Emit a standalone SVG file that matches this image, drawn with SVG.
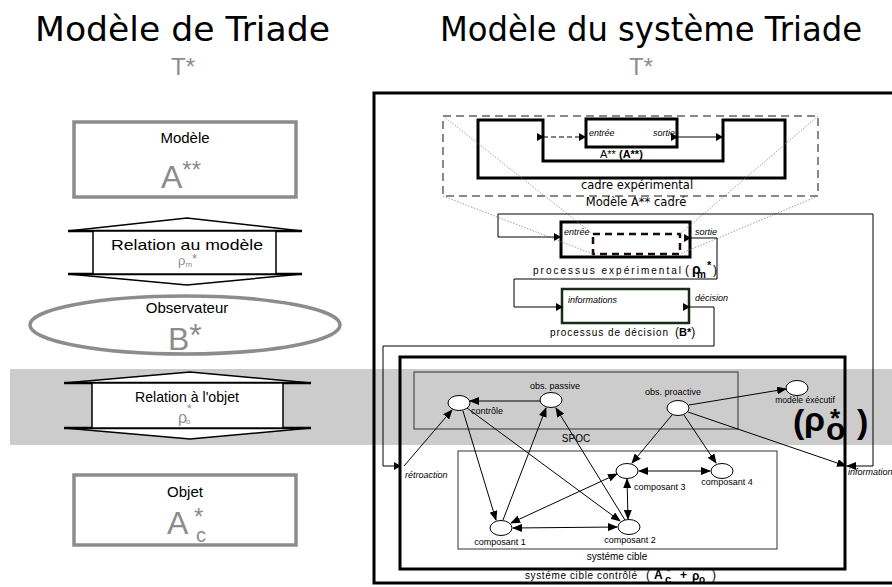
<svg xmlns="http://www.w3.org/2000/svg" width="892" height="587" viewBox="0 0 892 587">
<style>
text{font-family:"Liberation Sans",Arial,sans-serif;fill:#000}
.title{font-family:"DejaVu Sans",sans-serif;font-size:33px}
.tstar{font-size:24px;text-anchor:middle;fill:#8c8c8c}
.lbl{font-size:15px;text-anchor:middle}
.big{font-size:32px;fill:#8c8c8c}
.g{fill:#8c8c8c}
.graybox{fill:#fff;stroke:#8c8c8c;stroke-width:3.5}
.s{font-size:9px}
.m{font-size:10px}
.si{font-size:9px;font-style:italic}
.pl{font-size:10px}
.dv{font-family:"DejaVu Sans",sans-serif;font-size:11.5px;text-anchor:middle}
.thick{fill:none;stroke:#000;stroke-width:3}
.edge{fill:none;stroke:#000;stroke-width:1;marker-end:url(#ah)}
.bi{fill:none;stroke:#000;stroke-width:1;marker-end:url(#ah);marker-start:url(#ahs)}
.node{fill:#fff;stroke:#000;stroke-width:1}
.dotted{fill:none;stroke:#888;stroke-width:0.8;stroke-dasharray:1.5 1.5}
.b{font-weight:bold}
</style>
<defs>
<marker id="ah" markerUnits="userSpaceOnUse" markerWidth="10" markerHeight="8" refX="9" refY="4" orient="auto"><path d="M0,0 L10,4 L0,8 Z" fill="#000"/></marker>
<marker id="ahs" markerUnits="userSpaceOnUse" markerWidth="10" markerHeight="8" refX="1" refY="4" orient="auto"><path d="M10,0 L0,4 L10,8 Z" fill="#000"/></marker>
<marker id="port" markerUnits="userSpaceOnUse" markerWidth="7" markerHeight="8" refX="6" refY="4" orient="auto"><path d="M0,0 L7,4 L0,8 Z" fill="#000"/></marker>
</defs>
<rect width="892" height="587" fill="#fff"/>
<rect x="10" y="369" width="882" height="76" fill="#cccccc"/>

<g id="titles">
<text class="title" x="35" y="41" textLength="295" lengthAdjust="spacingAndGlyphs">Modèle de Triade</text>
<text class="tstar" x="183" y="75">T*</text>
<text class="title" x="440" y="41" textLength="422" lengthAdjust="spacingAndGlyphs">Modèle du système Triade</text>
<text class="tstar" x="641" y="75">T*</text>
</g>

<g id="modele">
<rect class="graybox" x="74" y="122" width="222" height="75"/>
<text class="lbl" x="185" y="143">Modèle</text>
<text class="big" x="161" y="188">A<tspan font-size="24" dy="-10">**</tspan></text>
</g>

<g id="relation-modele">
<path d="M68,231 L187,218 L302,231 Z M68,274 L187,285 L302,274 Z" fill="#fff" stroke="#000" stroke-width="1.5"/>
<line x1="68" y1="231" x2="302" y2="231" stroke="#000" stroke-width="2.5"/>
<line x1="68" y1="274" x2="302" y2="274" stroke="#000" stroke-width="2.5"/>
<rect x="93" y="231" width="183" height="43" fill="#fff" stroke="#000" stroke-width="1.5"/>
<text class="lbl" x="187" y="250" font-size="16" textLength="152" lengthAdjust="spacingAndGlyphs">Relation au modèle</text>
<text class="g" x="178" y="265" font-size="13">ρ<tspan font-size="8" dy="2">m</tspan><tspan dy="-4">*</tspan></text>
</g>

<g id="observateur">
<ellipse cx="185" cy="325" rx="155" ry="29" fill="#fff" stroke="#8c8c8c" stroke-width="3.5"/>
<text class="lbl" x="187" y="313">Observateur</text>
<text class="big" x="168" y="350" font-size="30">B<tspan dy="-4">*</tspan></text>
</g>

<g id="relation-objet">
<path d="M64,383 L190,372 L311,383 Z M64,428 L190,439 L311,428 Z" fill="#fff" stroke="#000" stroke-width="1.5"/>
<line x1="64" y1="383" x2="311" y2="383" stroke="#000" stroke-width="2.5"/>
<line x1="64" y1="428" x2="311" y2="428" stroke="#000" stroke-width="2.5"/>
<rect x="92" y="383" width="191" height="45" fill="#fff" stroke="#000" stroke-width="1.5"/>
<text class="lbl" x="187" y="402" textLength="104" lengthAdjust="spacingAndGlyphs">Relation à l'objet</text>
<text class="g" x="178" y="423" font-size="16">ρ</text>
<text class="g" x="186" y="424" font-size="8">o</text>
<text class="g" x="187" y="413" font-size="12">*</text>
</g>

<g id="objet">
<rect class="graybox" x="74" y="475" width="222" height="70"/>
<text class="lbl" x="185" y="497">Objet</text>
<text class="big" x="167" y="534">A</text>
<text class="g" x="194" y="525" font-size="24">*</text>
<text class="g" x="196" y="542" font-size="20">c</text>
</g>

<g id="systeme">
<rect x="374" y="93" width="530" height="490" fill="none" stroke="#000" stroke-width="3"/>
</g>

<g id="modele-cadre">
<rect x="443" y="116" width="375" height="80" fill="none" stroke="#888" stroke-width="2" stroke-dasharray="8 5"/>
<path class="thick" d="M478,120 H543 V161 H723 V120 H785 V178 H478 Z"/>
<rect class="thick" x="586" y="119" width="91" height="28" fill="#fff"/>
<text class="si" x="589" y="136" font-size="10">entrée</text>
<text class="si" x="675" y="136" font-size="10" text-anchor="end">sortie</text>
<text x="600" y="158" font-size="11">A**  <tspan class="b">(A**)</tspan></text>
<text class="dv" x="637" y="189">cadre expérimental</text>
<text class="dv" x="636" y="206">Modèle A** cadré</text>
</g>

<g id="processus-experimental">
<rect class="thick" x="561" y="222" width="129" height="35"/>
<rect x="593" y="234" width="87" height="20" fill="none" stroke="#1a0a0a" stroke-width="2.5" stroke-dasharray="7 5"/>
<text class="si" x="564" y="235">entrée</text>
<text class="si" x="695" y="235">sortie</text>
<text class="pl" x="533" y="274" textLength="148">processus  expérimental</text>
<text x="685" y="274" font-size="12">(</text>
<text class="b" x="692" y="274" font-size="14">ρ</text>
<text class="b" x="697" y="278" font-size="10">m</text>
<text class="b" x="707" y="269" font-size="11">*</text>
<text x="713" y="274" font-size="12">)</text>
</g>

<g id="processus-decision">
<rect x="562" y="289" width="127" height="34" fill="none" stroke="#1c2a1c" stroke-width="2.5"/>
<text class="si" x="568" y="303">informations</text>
<text class="si" x="695" y="301">décision</text>
<text class="pl" x="550" y="336" textLength="118">processus de décision</text>
<text x="675" y="336" font-size="12">(<tspan class="b" font-size="11">B*</tspan>)</text>
</g>

<g id="systeme-cible-controle">
<rect class="thick" x="400" y="357" width="445" height="212"/>
<text class="pl" x="525" y="579" textLength="112">systéme cible contrôlé</text>
<text x="646" y="579" font-size="12">(</text>
<text class="b" x="654" y="579" font-size="12">A</text>
<text class="b" x="665" y="583" font-size="11">c</text>
<text x="667" y="574" font-size="8">*</text>
<text class="b" x="680" y="579" font-size="12">+</text>
<text class="b" x="692" y="580" font-size="12">ρ</text>
<text class="b" x="699" y="583" font-size="10">o</text>
<text x="702" y="573" font-size="8">*</text>
<text x="712" y="579" font-size="12">)</text>
</g>

<g id="spoc">
<rect x="414" y="372" width="324" height="57" fill="none" stroke="#333" stroke-width="1"/>
<text class="m" x="576" y="442" text-anchor="middle">SPOC</text>
</g>

<g id="systeme-cible">
<rect x="458" y="451" width="319" height="98" fill="none" stroke="#333" stroke-width="1"/>
<text class="m" x="617" y="560" text-anchor="middle">systéme cible</text>
</g>

<g id="n-controle"><ellipse class="node" cx="459" cy="403" rx="11" ry="7.5"/><text class="s" x="471" y="414">contrôle</text></g>
<g id="n-obs-passive"><ellipse class="node" cx="551" cy="400" rx="11" ry="7.5"/><text class="s" x="555" y="389" text-anchor="middle">obs. passive</text></g>
<g id="n-obs-proactive"><ellipse class="node" cx="678" cy="408" rx="11" ry="7.5"/><text class="s" x="673" y="395" text-anchor="middle">obs. proactive</text></g>
<g id="n-modele-executif"><ellipse class="node" cx="797" cy="388" rx="11" ry="7.5"/><text x="805" y="403" font-size="8.5" text-anchor="middle">modèle éxécutif</text></g>
<g id="n-composant3"><ellipse class="node" cx="627" cy="471" rx="11" ry="7.5"/><text class="s" x="634" y="490">composant 3</text></g>
<g id="n-composant4"><ellipse class="node" cx="722" cy="471" rx="11" ry="7.5"/><text class="s" x="727" y="485" text-anchor="middle">composant 4</text></g>
<g id="n-composant1"><ellipse class="node" cx="501" cy="528" rx="11" ry="7.5"/><text class="s" x="500" y="545" text-anchor="middle">composant 1</text></g>
<g id="n-composant2"><ellipse class="node" cx="629" cy="527" rx="11" ry="7.5"/><text class="s" x="630" y="543" text-anchor="middle">composant 2</text></g>

<g id="rho-o">
<text class="b" x="793" y="433" font-size="34">(</text>
<text class="b" x="804" y="431" font-size="34">ρ</text>
<text class="b" x="826" y="440" font-size="32">o</text>
<text class="b" x="830" y="427" font-size="26">*</text>
<text class="b" x="857" y="433" font-size="34">)</text>
</g>

<g id="connectors">
<path class="dotted" d="M443,116 L593,234 M443,196 L593,254 M818,116 L680,234 M818,196 L680,254"/>
<line x1="543" y1="137" x2="585" y2="137" stroke="#000" stroke-width="1.2" stroke-dasharray="5 3" marker-start="url(#port)" marker-end="url(#port)"/>
<line x1="677" y1="137" x2="722" y2="137" stroke="#000" stroke-width="1.2" marker-start="url(#port)" marker-end="url(#port)"/>
<path d="M873,466 V214 H498 V237 H560" fill="none" stroke="#000" stroke-width="1" marker-end="url(#port)"/>
<path d="M690,238 H717 V279 H514 V307 H562" fill="none" stroke="#000" stroke-width="1" marker-start="url(#port)" marker-end="url(#port)"/>
<path d="M689,307 H714 V346 H383 V466 H400" fill="none" stroke="#000" stroke-width="1" marker-start="url(#port)" marker-end="url(#port)"/>
<path d="M847,466 H873" fill="none" stroke="#000" stroke-width="1" marker-start="url(#ahs)"/>
<line class="edge" x1="540" y1="401" x2="470" y2="401"/>
<line class="edge" x1="689" y1="405" x2="786" y2="389"/>
<line class="edge" stroke-width="1.3" x1="688" y1="412" x2="846" y2="466"/>
<line class="edge" x1="672" y1="415" x2="632" y2="463"/>
<line class="edge" x1="684" y1="415" x2="716" y2="463"/>
<line class="edge" x1="404" y1="466" x2="452" y2="410"/>
<line class="edge" x1="463" y1="411" x2="496" y2="520"/>
<line class="edge" x1="467" y1="408" x2="620" y2="521"/>
<line class="edge" x1="503" y1="520" x2="546" y2="408"/>
<line class="edge" x1="625" y1="520" x2="556" y2="408"/>
<line class="bi" x1="513" y1="528" x2="617" y2="527"/>
<line class="bi" x1="511" y1="523" x2="617" y2="474"/>
<line class="bi" x1="639" y1="471" x2="710" y2="471"/>
<line class="bi" x1="627" y1="479" x2="628" y2="519"/>
</g>
<text class="si" x="405" y="478">rétroaction</text>
<text class="si" x="848" y="475">information</text>
</svg>
